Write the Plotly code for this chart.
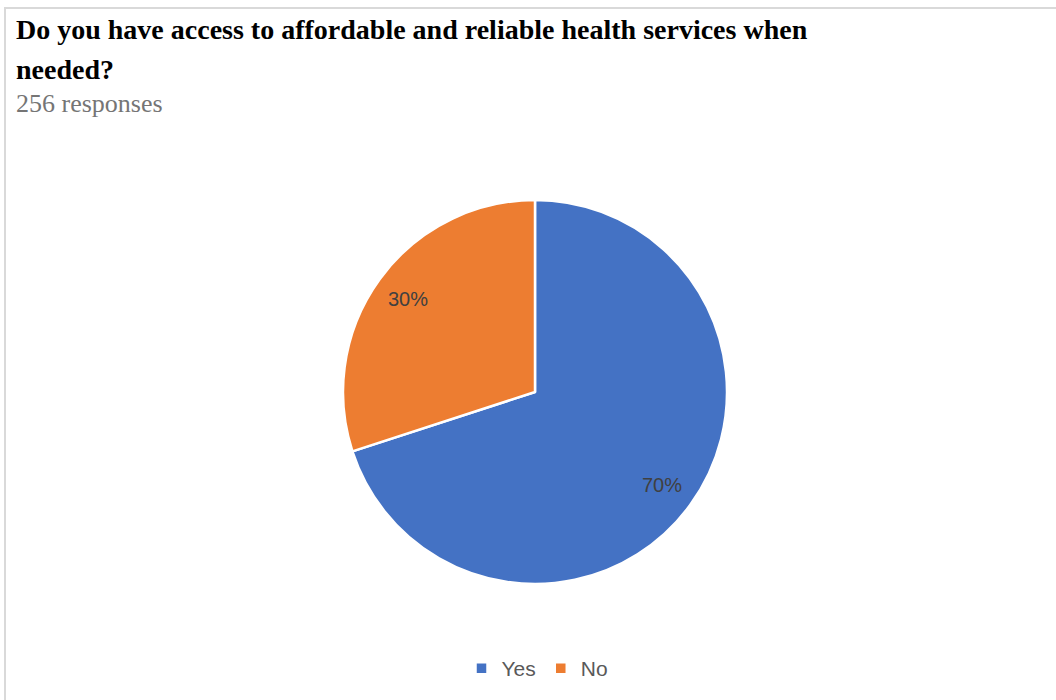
import math
import plotly.graph_objects as go

# Survey answers
answers = ["Yes", "No"]
shares = [70, 30]
colors = ["#4472C4", "#ED7D31"]

question_lines = ["Do you have access to affordable and reliable health services when", "needed?"]
responses_note = "256 responses"

W, H = 1056, 700

# Pie placement (pixels)
PIE_CX, PIE_CY, PIE_R = 535, 392, 192
LABEL_RADIUS = 0.82

fig = go.Figure(
    go.Pie(
        labels=answers,
        values=shares,
        marker=dict(colors=colors, line=dict(color="white", width=2.5)),
        sort=False,
        direction="clockwise",
        rotation=0,
        textinfo="none",
        hoverinfo="label+percent",
        domain=dict(
            x=[(PIE_CX - PIE_R) / W, (PIE_CX + PIE_R) / W],
            y=[(H - PIE_CY - PIE_R) / H, (H - PIE_CY + PIE_R) / H],
        ),
    )
)

# Percentage labels placed at each slice's mid-angle
annotations = []
total = sum(shares)
cum = 0.0
for v in shares:
    mid = (cum + v / 2) / total * 2 * math.pi
    cum += v
    dx = LABEL_RADIUS * PIE_R * math.sin(mid)
    dy = LABEL_RADIUS * PIE_R * math.cos(mid)
    annotations.append(
        dict(
            text=f"{round(v / total * 100)}%",
            xref="paper",
            yref="paper",
            x=(PIE_CX + dx) / W,
            y=(H - PIE_CY + dy) / H,
            xanchor="center",
            yanchor="middle",
            showarrow=False,
            font=dict(family="Liberation Sans", size=20, color="#404040"),
        )
    )

title_font = dict(family="Liberation Serif, Times New Roman, serif", size=28, color="black")
for i, line in enumerate(question_lines):
    annotations.append(
        dict(
            text="<b>" + line + "</b>",
            xref="paper",
            yref="paper",
            x=14 / W,
            y=1 - (12 + 40 * i) / H,
            xanchor="left",
            yanchor="top",
            align="left",
            showarrow=False,
            font=title_font,
        )
    )
annotations.append(
    dict(
        text=responses_note,
        xref="paper",
        yref="paper",
        x=14 / W,
        y=1 - 87 / H,
        xanchor="left",
        yanchor="top",
        showarrow=False,
        font=dict(family="Liberation Serif, Times New Roman, serif", size=26, color="#757575"),
    )
)

fig.update_layout(
    width=W,
    height=H,
    margin=dict(l=0, r=0, t=0, b=0),
    paper_bgcolor="white",
    plot_bgcolor="white",
    showlegend=True,
    legend=dict(
        orientation="h",
        x=0.509,
        xanchor="center",
        y=0.045,
        yanchor="middle",
        font=dict(family="Liberation Sans", size=21, color="#595959"),
        itemwidth=30,
        traceorder="normal",
    ),
    shapes=[
        dict(
            type="rect",
            xref="paper",
            yref="paper",
            x0=5 / W,
            x1=1.01,
            y0=-0.01,
            y1=1 - 8 / H,
            line=dict(color="#D9D9D9", width=2),
            fillcolor="rgba(0,0,0,0)",
            layer="below",
        )
    ],
    annotations=annotations,
)

fig.write_html("out.html")
